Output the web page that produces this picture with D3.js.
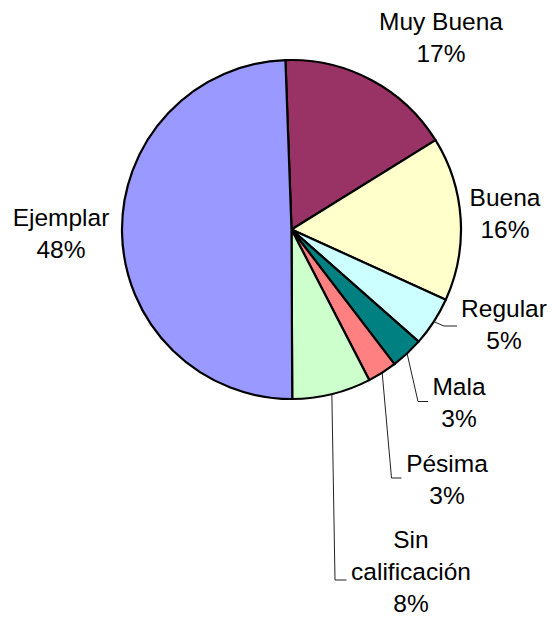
<!DOCTYPE html>
<html>
<head>
<meta charset="utf-8">
<script src="https://cdn.jsdelivr.net/npm/d3@7"></script>
<style>
  html, body { margin: 0; padding: 0; background: #fff; }
  svg { display: block; }
  text { font-family: "Liberation Sans", Arial, sans-serif; font-size: 24.5px; fill: #000; }
</style>
</head>
<body>
<svg id="chart" width="552" height="618"></svg>
<script>
// categories, clockwise from the top
const categories = ['Muy Buena', 'Buena', 'Regular', 'Mala', 'Pésima', 'Sin calificación', 'Ejemplar'];
// slice sizes (share of total)
const shares = [16.7, 15.6, 4.7, 3.1, 2.8, 7.5, 49.4];
// percent labels as printed on the chart
const pctLabels = ['17%', '16%', '5%', '3%', '3%', '8%', '48%'];
const colors = ['#993366', '#ffffcc', '#ccffff', '#008080', '#ff8080', '#ccffcc', '#9999ff'];

// label text lines and placement (center x, first baseline), plus leader bends
const labelLines = [['Muy Buena'], ['Buena'], ['Regular'], ['Mala'], ['Pésima'], ['Sin', 'calificación'], ['Ejemplar']];
const labelPos = [
  { x: 441, y: 29.5 },
  { x: 505, y: 206 },
  { x: 504, y: 317 },
  { x: 459, y: 395 },
  { x: 447, y: 472 },
  { x: 411, y: 548 },
  { x: 61, y: 226 }
];
const leaders = [null, null, [[444, 326], [457, 326]], [[418, 401.5], [428, 401.5]], [[391.5, 478], [401.5, 478]], [[335, 580], [346.5, 580]], null];

const cx = 291.5, cy = 229.5, r = 169.5;
const lineGap = 32;

const svg = d3.select('#chart');
const g = svg.append('g').attr('transform', `translate(${cx},${cy})`);

const pie = d3.pie().sort(null).value(d => d)
  .startAngle(-2.05 * Math.PI / 180)
  .endAngle(-2.05 * Math.PI / 180 + 2 * Math.PI);
const arcs = pie(shares);
const arc = d3.arc().innerRadius(0).outerRadius(r);
const edge = d3.arc().innerRadius(r).outerRadius(r);

g.selectAll('path.slice')
  .data(arcs)
  .enter().append('path')
    .attr('class', 'slice')
    .attr('d', arc)
    .attr('fill', (d, i) => colors[i])
    .attr('stroke', '#000')
    .attr('stroke-width', 2.2)
    .attr('stroke-linejoin', 'round');

// leader lines
arcs.forEach((d, i) => {
  if (!leaders[i]) return;
  const p = edge.centroid(d);
  const pts = [[p[0] + cx, p[1] + cy]].concat(leaders[i]);
  svg.append('path')
    .attr('d', d3.line()(pts))
    .attr('fill', 'none')
    .attr('stroke', '#222')
    .attr('stroke-width', 1);
});

// labels
categories.forEach((c, i) => {
  const lines = labelLines[i].concat([pctLabels[i]]);
  const t = svg.append('text')
    .attr('text-anchor', 'middle');
  lines.forEach((s, k) => {
    t.append('tspan')
      .attr('x', labelPos[i].x)
      .attr('y', labelPos[i].y + k * lineGap)
      .text(s);
  });
});
</script>
</body>
</html>
